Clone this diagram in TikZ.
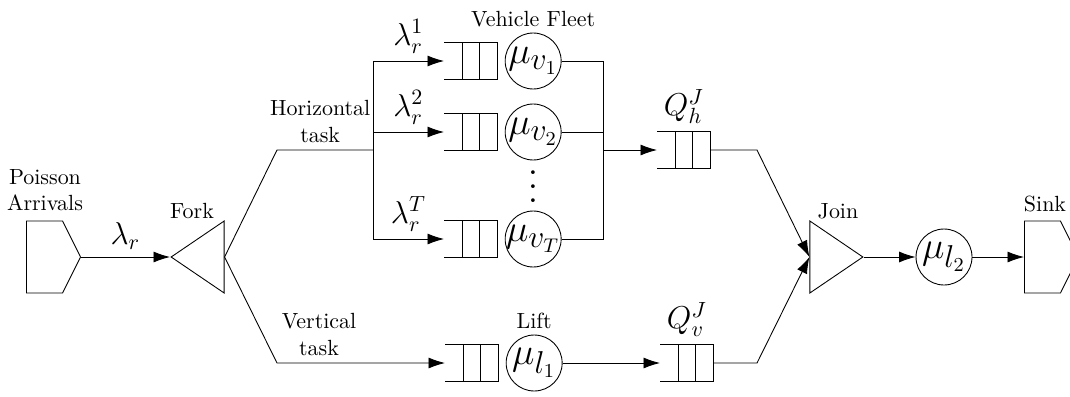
\documentclass[tikz,border=0pt]{standalone}
\usetikzlibrary{arrows.meta,shapes.geometric,shapes.symbols,positioning,calc}

\tikzset{
  server/.style={draw, circle, minimum size=0.896cm, inner sep=-3pt,
    font=\fontsize{19}{23}\selectfont},
  warteschlange/.style={minimum width=0.848cm, minimum height=0.576cm, inner sep=0pt},
  gabel/.style={draw, isosceles triangle, isosceles triangle stretches,
    minimum width=1.152cm, minimum height=0.848cm, inner sep=0pt},
  quelle/.style={draw, signal, signal to=east, signal pointer angle=127,
    minimum width=0.864cm, minimum height=1.152cm, inner sep=0pt},
}

% offene Warteschlange mit drei Plaetzen
\newcommand{\drawqueue}[1]{%
  \draw (#1.north west) -- (#1.north east) -- (#1.south east) -- (#1.south west);
  \draw ($(#1.north west)!1/3!(#1.north east)$) -- ($(#1.south west)!1/3!(#1.south east)$);
  \draw ($(#1.north west)!2/3!(#1.north east)$) -- ($(#1.south west)!2/3!(#1.south east)$);}

\begin{document}
\begin{tikzpicture}[x=0.016cm, y=-0.016cm, >={Latex[length=7.5pt,width=5pt]}]
  \useasboundingbox (0,0) rectangle (1070,396);

  % Quelle und Fork
  \node[quelle, anchor=east] (src) at (81,257) {};
  \node[align=center] (srclabel) at (45,190) {Poisson\\Arrivals};
  \node[gabel, shape border rotate=180, anchor=apex] (fork) at (170,257) {};
  \node (forklabel) at (192,211) {Fork};
  \draw[->] (src.east) -- node[above, font=\Large] {$\lambda_r$} (fork.apex);

  % Horizontale Auftraege
  \coordinate (hknick) at (277,150);
  \coordinate (hbus) at (373,150);
  \draw (fork.lower side) -- (hknick)
    -- node[pos=0.45, above, align=center] {Horizontal\\task} (hbus);

  % Fahrzeugflotte
  \foreach \i/\y in {1/61, 2/132, T/239} {
    \node[warteschlange, anchor=west] (q\i) at (444,\y) {};
    \drawqueue{q\i}
    \node[server, right=0.11cm of q\i] (v\i) {$\mu_{v_{\i}}$};
    \draw[->] (hbus |- q\i) -- node[above, font=\Large] {$\lambda_r^{\i}$} (q\i.west);
  }
  \draw (hbus |- q1) -- (hbus |- qT);
  \node[scale=1.6] (dots) at (533,176) {$\vdots$};
  \node[above=-1pt of v1] (fleetlabel) {Vehicle Fleet};

  \coordinate (vbus) at (603,150);
  \draw (v1.east) -- (vbus |- v1) -- (vbus |- vT) -- (vT.east);
  \draw (v2.east) -- (vbus |- v2);

  % Join-Puffer horizontal
  \node[warteschlange, anchor=west] (qh) at (657,150) {};
  \drawqueue{qh}
  \node[above, font=\Large] (qhlabel) at (qh.north) {$Q_h^J$};
  \draw[->] (vbus) -- (qh.west);

  % Vertikale Auftraege
  \coordinate (vknick) at (277,363);
  \node[warteschlange, anchor=west] (ql) at (445,363) {};
  \drawqueue{ql}
  \node[server, right=0.11cm of ql] (l1) {$\mu_{l_1}$};
  \node[above=-1pt of l1] (liftlabel) {Lift};
  \draw[->] (fork.lower side) -- (vknick)
    -- node[pos=0.25, above, align=center] {Vertical\\task} (ql.west);

  \node[warteschlange, anchor=west] (qv) at (660,363) {};
  \drawqueue{qv}
  \node[above, font=\Large] (qvlabel) at (qv.north) {$Q_v^J$};
  \draw[->] (l1.east) -- (qv.west);

  % Join und Senke
  \node[gabel, anchor=apex] (join) at (864,257) {};
  \node (joinlabel) at (838,211) {Join};
  \coordinate (hknick2) at (757,150);
  \coordinate (vknick2) at (757,363);
  \draw[->] (qh.east) -- (hknick2) -- (join.lower side);
  \draw[->] (qv.east) -- (vknick2) -- (join.lower side);

  \node[server] (l2) at (944,257) {$\mu_{l_2}$};
  \draw[->] (join.apex) -- (l2.west);
  \node[quelle, anchor=west] (sink) at (1024,257) {};
  \node (sinklabel) at (1045,204) {Sink};
  \draw[->] (l2.east) -- (sink.west);
\end{tikzpicture}
\end{document}
